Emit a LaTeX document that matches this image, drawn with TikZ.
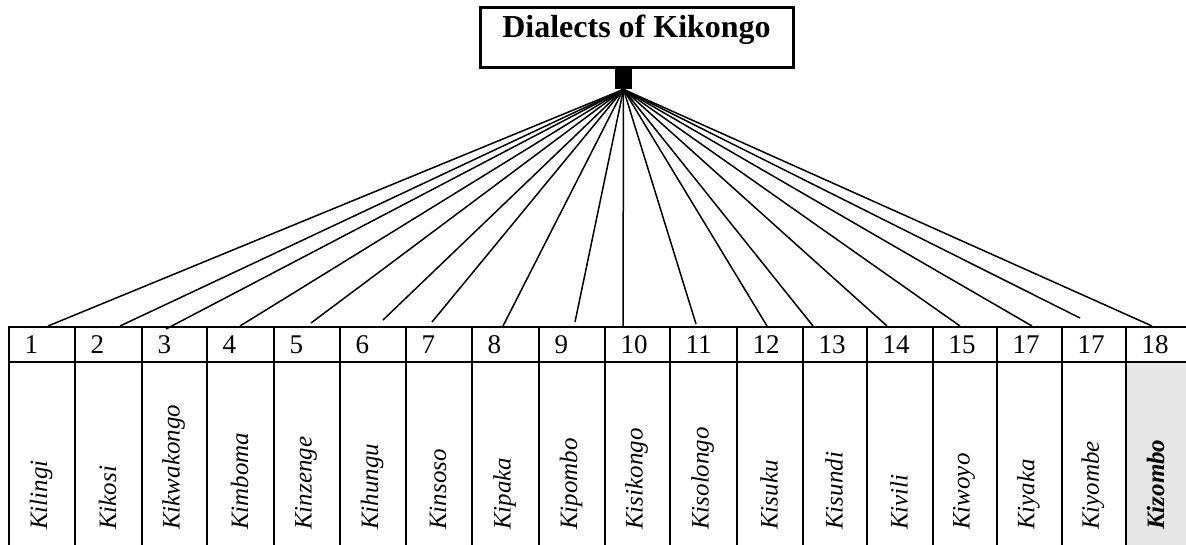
\documentclass[tikz,border=0pt]{standalone}
\usepackage{fontspec}
\setmainfont{Liberation Serif}
\usepackage{xcolor}
\definecolor{cellgrey}{HTML}{E6E6E6}

\begin{document}
\begin{tikzpicture}[x=1pt,y=-1pt,
    titlebox/.style={draw=black,line width=3pt,minimum width=313pt,minimum height=60pt,inner sep=0pt},
    numcell/.style={draw=black,line width=2pt,anchor=north west,minimum height=35pt,inner sep=0pt},
    namecell/.style={draw=black,line width=2pt,anchor=north west,minimum height=200pt,inner sep=0pt},
    dialect/.style={rotate=90,anchor=west,inner sep=0pt,font=\fontsize{25}{25}\selectfont\itshape},
    fan/.style={line width=1.5pt}]
  \useasboundingbox (0,0) rectangle (1186,544);

  % title
  \node[titlebox] (title) at (636.5,37.5) {};
  \node[anchor=base,font=\fontsize{32}{32}\selectfont\bfseries] (ttl) at (636.5,37) {Dialects of Kikongo};
  \node[fill=black,minimum width=17pt,minimum height=21pt,inner sep=0pt,anchor=north] (stem) at (623.5,68) {};

  % columns
  \foreach \l/\r/\num/\name/\ex/\ey [count=\i] in {
      8/74/1/Kilingi/48/326, 74/141/2/Kikosi/120/326, 141/206/3/Kikwakongo/166/329,
      206/273/4/Kimboma/240/326, 273/339/5/Kinzenge/311/323, 339/405/6/Kihungu/383/320,
      405/471/7/Kinsoso/432/322, 471/538/8/Kipaka/503/326, 538/604/9/Kipombo/575/322,
      604/669/10/Kisikongo/623/326, 669/736/11/Kisolongo/696/324, 736/802/12/Kisuku/767/326,
      802/866/13/Kisundi/813/326, 866/932/14/Kivili/887/326, 932/996/15/Kiwoyo/960/326,
      996/1061/17/Kiyaka/1032/326, 1061/1125/17/Kiyombe/1080/318}
  {
    \node[numcell,minimum width=\r pt-\l pt] (h\i) at (\l,326) {};
    \node[anchor=base west,font=\fontsize{27}{27}\selectfont] (k\i) at (\l+13,353) {\num};
    \node[namecell,minimum width=\r pt-\l pt] (b\i) at (\l,361) {};
    \node[dialect] (d\i) at ({(\l+\r)/2},530) {\name};
    \coordinate (e\i) at (\ex,\ey);
    \draw[fan] (stem.south) -- (e\i);
  }

  % last column
  \node[numcell,minimum width=70pt] (h18) at (1125,326) {};
  \node[anchor=base west,font=\fontsize{27}{27}\selectfont] (k18) at (1138,353) {18};
  \node[namecell,minimum width=70pt,fill=cellgrey] (b18) at (1125,361) {};
  \node[dialect,font=\fontsize{25}{25}\selectfont\bfseries\itshape] (d18) at (1155.5,530) {Kizombo};
  \coordinate (e18) at (1152,326);
  \draw[fan] (stem.south) -- (e18);
\end{tikzpicture}
\end{document}
